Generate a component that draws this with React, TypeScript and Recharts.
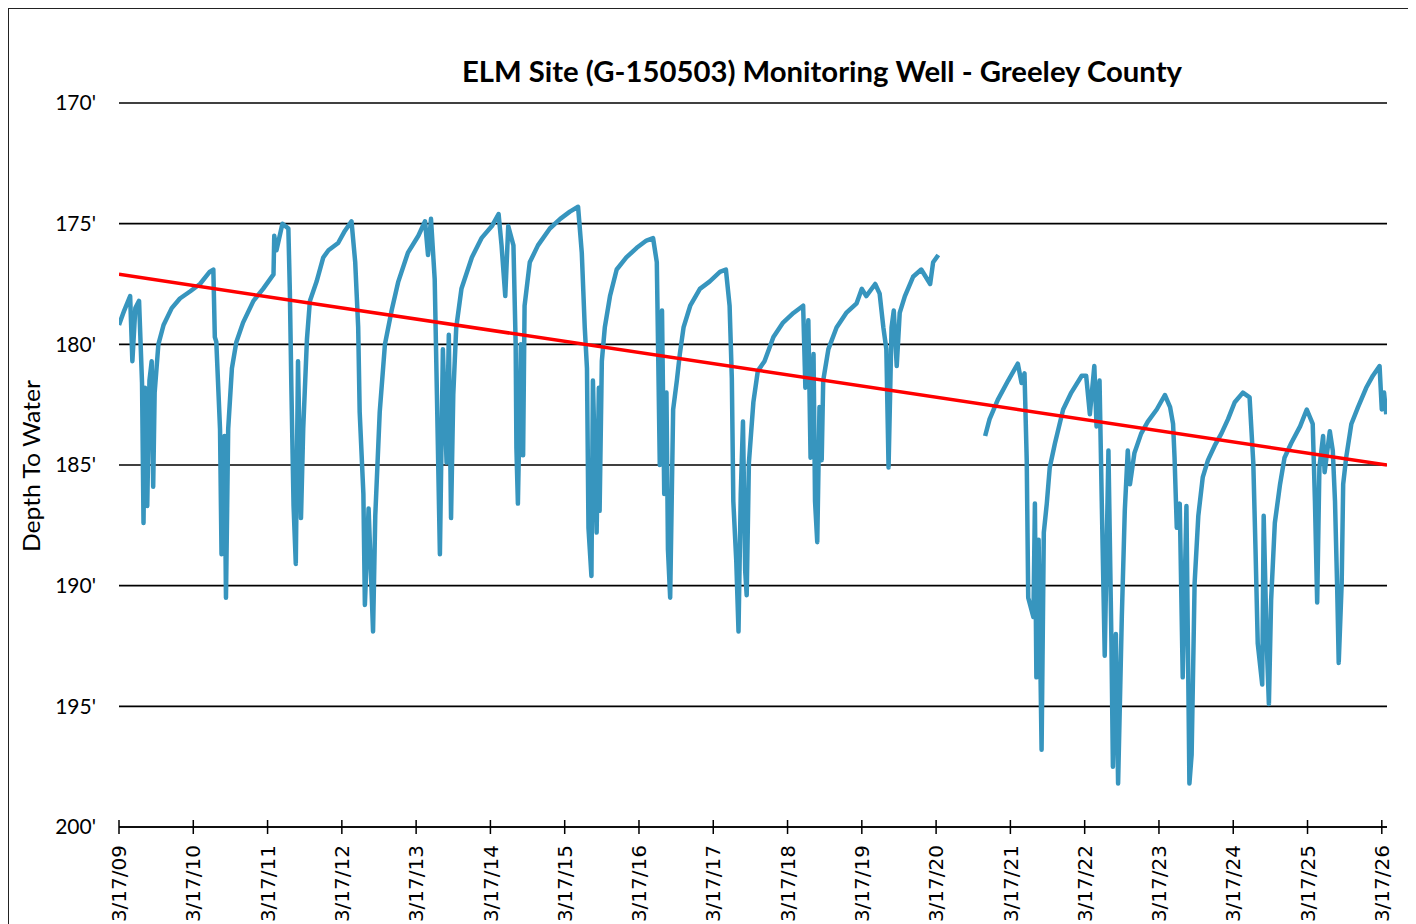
import { CartesianGrid, Line, LineChart, XAxis, YAxis } from 'recharts';

/* Depth-to-water record, read off the hydrograph. Dates are decimal years,
   depth in feet below surface. The record has a gap in mid 2020. */

const WELL_2009_2020: [number, number][] = [
  [2009.21, 179.2], [2009.28, 178.6], [2009.36, 178.0], [2009.39, 180.7], [2009.43, 178.5],
  [2009.48, 178.2], [2009.52, 181.6], [2009.54, 187.4], [2009.56, 181.8], [2009.59, 186.7],
  [2009.62, 181.5], [2009.65, 180.7], [2009.67, 185.9], [2009.69, 182.0], [2009.74, 180.0],
  [2009.81, 179.2], [2009.92, 178.5], [2010.03, 178.1], [2010.17, 177.8], [2010.3, 177.5],
  [2010.43, 177.0], [2010.48, 176.9], [2010.5, 179.7], [2010.52, 179.9], [2010.57, 183.5],
  [2010.59, 188.7], [2010.63, 183.8], [2010.65, 190.5], [2010.68, 183.5], [2010.73, 181.0],
  [2010.79, 179.9], [2010.88, 179.1], [2011.02, 178.2], [2011.15, 177.7], [2011.29, 177.1],
  [2011.3, 175.5], [2011.33, 176.1], [2011.41, 175.0], [2011.49, 175.2], [2011.51, 177.8],
  [2011.53, 181.7], [2011.56, 186.7], [2011.59, 189.1], [2011.62, 180.7], [2011.66, 187.2],
  [2011.69, 183.5], [2011.74, 179.8], [2011.78, 178.2], [2011.87, 177.4], [2011.96, 176.4],
  [2012.03, 176.1], [2012.16, 175.8], [2012.25, 175.3], [2012.34, 174.9], [2012.39, 176.6],
  [2012.43, 179.3], [2012.45, 182.8], [2012.5, 186.2], [2012.52, 190.8], [2012.57, 186.8],
  [2012.63, 191.9], [2012.66, 187.1], [2012.72, 182.8], [2012.79, 180.0], [2012.88, 178.6],
  [2012.97, 177.4], [2013.1, 176.2], [2013.24, 175.5], [2013.33, 174.9], [2013.37, 176.3],
  [2013.41, 174.8], [2013.46, 177.3], [2013.49, 182.1], [2013.53, 188.7], [2013.57, 180.2],
  [2013.62, 184.9], [2013.65, 179.6], [2013.68, 187.2], [2013.71, 182.1], [2013.75, 179.3],
  [2013.82, 177.7], [2013.96, 176.4], [2014.09, 175.6], [2014.23, 175.1], [2014.32, 174.6],
  [2014.36, 175.9], [2014.41, 178.0], [2014.45, 175.1], [2014.52, 175.9], [2014.55, 180.0],
  [2014.56, 184.3], [2014.58, 186.6], [2014.62, 180.0], [2014.65, 184.6], [2014.67, 178.4],
  [2014.74, 176.6], [2014.85, 175.9], [2015.01, 175.2], [2015.15, 174.8], [2015.28, 174.5],
  [2015.39, 174.3], [2015.44, 176.2], [2015.48, 179.3], [2015.51, 181.0], [2015.53, 187.6],
  [2015.57, 189.6], [2015.59, 181.5], [2015.64, 187.8], [2015.67, 181.8], [2015.68, 186.9],
  [2015.71, 180.7], [2015.75, 179.3], [2015.82, 178.0], [2015.91, 176.9], [2016.04, 176.4],
  [2016.18, 176.0], [2016.31, 175.7], [2016.4, 175.6], [2016.45, 176.6], [2016.47, 180.7],
  [2016.49, 185.0], [2016.52, 178.6], [2016.55, 186.2], [2016.58, 182.0], [2016.6, 188.5],
  [2016.63, 190.5], [2016.67, 182.7], [2016.72, 181.5], [2016.76, 180.4], [2016.81, 179.3],
  [2016.9, 178.4], [2017.03, 177.7], [2017.16, 177.4], [2017.3, 177.0], [2017.38, 176.9],
  [2017.43, 178.4], [2017.46, 181.4], [2017.48, 186.5], [2017.52, 189.0], [2017.55, 191.9],
  [2017.58, 186.2], [2017.61, 183.2], [2017.64, 189.4], [2017.66, 190.4], [2017.69, 184.9],
  [2017.75, 182.4], [2017.81, 181.1], [2017.9, 180.7], [2018.02, 179.7], [2018.15, 179.1],
  [2018.29, 178.7], [2018.42, 178.4], [2018.45, 181.8], [2018.49, 179.0], [2018.52, 184.7],
  [2018.56, 180.4], [2018.58, 186.5], [2018.61, 188.2], [2018.64, 182.6], [2018.67, 184.8],
  [2018.69, 181.5], [2018.76, 180.2], [2018.87, 179.3], [2019.0, 178.7], [2019.14, 178.3],
  [2019.21, 177.7], [2019.27, 178.0], [2019.39, 177.5], [2019.45, 177.9], [2019.5, 179.3],
  [2019.54, 180.2], [2019.57, 185.1], [2019.61, 179.3], [2019.64, 178.6], [2019.68, 180.9],
  [2019.72, 178.7], [2019.79, 178.0], [2019.9, 177.2], [2020.01, 176.9], [2020.13, 177.5],
  [2020.17, 176.6], [2020.24, 176.3],
];

const WELL_2020_2026: [number, number][] = [
  [2020.87, 183.8], [2020.93, 183.1], [2021.04, 182.3], [2021.18, 181.5], [2021.31, 180.8],
  [2021.36, 181.6], [2021.4, 181.2], [2021.43, 184.8], [2021.45, 190.5], [2021.52, 191.3],
  [2021.54, 186.6], [2021.56, 193.8], [2021.59, 188.1], [2021.63, 196.8], [2021.66, 187.8],
  [2021.7, 186.6], [2021.74, 185.1], [2021.81, 184.1], [2021.92, 182.7], [2022.03, 182.0],
  [2022.17, 181.3], [2022.23, 181.3], [2022.28, 182.9], [2022.34, 180.9], [2022.37, 183.4],
  [2022.41, 181.5], [2022.44, 186.5], [2022.48, 192.9], [2022.53, 184.4], [2022.57, 192.3],
  [2022.59, 197.5], [2022.63, 192.0], [2022.66, 198.2], [2022.71, 191.3], [2022.75, 186.9],
  [2022.79, 184.4], [2022.82, 185.8], [2022.88, 184.5], [2022.97, 183.7], [2023.06, 183.2],
  [2023.18, 182.7], [2023.29, 182.1], [2023.36, 182.6], [2023.4, 183.3], [2023.42, 184.7],
  [2023.45, 187.6], [2023.49, 186.6], [2023.53, 193.8], [2023.58, 186.7], [2023.62, 198.2],
  [2023.65, 197.0], [2023.69, 189.9], [2023.74, 187.1], [2023.8, 185.5], [2023.87, 184.8],
  [2023.96, 184.2], [2024.05, 183.7], [2024.14, 183.1], [2024.23, 182.4], [2024.34, 182.0],
  [2024.43, 182.2], [2024.48, 184.9], [2024.51, 188.5], [2024.54, 192.4], [2024.6, 194.1],
  [2024.62, 187.1], [2024.66, 192.3], [2024.69, 194.9], [2024.72, 190.6], [2024.77, 187.4],
  [2024.84, 185.8], [2024.9, 184.7], [2024.99, 184.1], [2025.11, 183.4], [2025.2, 182.7],
  [2025.28, 183.3], [2025.31, 186.5], [2025.34, 190.7], [2025.37, 185.1], [2025.42, 183.8],
  [2025.44, 185.3], [2025.51, 183.6], [2025.55, 184.4], [2025.58, 186.5], [2025.61, 190.2],
  [2025.63, 193.2], [2025.67, 189.9], [2025.69, 185.8], [2025.73, 184.7], [2025.8, 183.3],
  [2025.89, 182.6], [2026.0, 181.8], [2026.09, 181.3], [2026.18, 180.9], [2026.21, 182.7],
  [2026.24, 182.0], [2026.27, 182.9],
];

// linear trend, drawn end to end
const TREND: [number, number][] = [
  [2009.21, 177.1],
  [2026.28, 185.0],
];

const TICK_DATES = [
  2009.21, 2010.21, 2011.21, 2012.21, 2013.21, 2014.21, 2015.21, 2016.21, 2017.21,
  2018.21, 2019.21, 2020.21, 2021.21, 2022.21, 2023.21, 2024.21, 2025.21, 2026.21,
];
const TICK_LABELS = [
  '3/17/09', '3/17/10', '3/17/11', '3/17/12', '3/17/13', '3/17/14', '3/17/15', '3/17/16',
  '3/17/17', '3/17/18', '3/17/19', '3/17/20', '3/17/21', '3/17/22', '3/17/23', '3/17/24',
  '3/17/25', '3/17/26',
];
const DEPTH_TICKS = [170, 175, 180, 185, 190, 195, 200];

const TITLE = 'ELM Site (G-150503) Monitoring Well - Greeley County';
const WELL_BLUE = '#3795be';
const INK = '#000';

const toRows = (pts: [number, number][]) => pts.map(([date, depth]) => ({ date, depth }));

function DateTick({ x, y, payload }: { x?: number; y?: number; payload?: { value: number } }) {
  const i = TICK_DATES.indexOf(payload?.value ?? -1);
  const px = x ?? 0;
  const py = y ?? 0;
  return (
    <g>
      <line x1={px} y1={py - 7} x2={px} y2={py + 7} stroke={INK} strokeWidth={1.5} />
      <text
        x={px}
        y={py + 18}
        dy="0.36em"
        textAnchor="end"
        transform={`rotate(-90, ${px}, ${py + 18})`}
        fontFamily="'DejaVu Sans', Verdana, sans-serif"
        fontSize={20}
        fill={INK}
      >
        {i >= 0 ? TICK_LABELS[i] : ''}
      </text>
    </g>
  );
}

export default function App() {
  return (
    <div
      style={{
        position: 'relative',
        width: 1400,
        height: 1000,
        border: '1px solid #222',
        background: '#fff',
      }}
    >
      <LineChart
        width={1400}
        height={1000}
        margin={{ top: 94, right: 22, bottom: 82, left: 30 }}
      >
        <CartesianGrid horizontal vertical={false} stroke={INK} strokeWidth={1.6} />
        <XAxis
          type="number"
          dataKey="date"
          domain={[2009.21, 2026.28]}
          ticks={TICK_DATES}
          interval={0}
          allowDataOverflow
          height={100}
          tickLine={false}
          tickSize={0}
          tickMargin={0}
          axisLine={{ stroke: INK, strokeWidth: 1.6 }}
          tick={<DateTick />}
        />
        <YAxis
          type="number"
          reversed
          domain={[170, 200]}
          ticks={DEPTH_TICKS}
          interval={0}
          width={80}
          axisLine={false}
          tickLine={false}
          tickSize={15}
          tickMargin={8}
          tickFormatter={(v) => `${v}'`}
          tick={{ fill: INK, fontSize: 21, fontFamily: 'Lato, sans-serif' }}
        />
        <Line
          data={toRows(WELL_2009_2020)}
          dataKey="depth"
          type="linear"
          stroke={WELL_BLUE}
          strokeWidth={4.5}
          strokeLinejoin="round"
          dot={false}
          activeDot={false}
          isAnimationActive={false}
        />
        <Line
          data={toRows(WELL_2020_2026)}
          dataKey="depth"
          type="linear"
          stroke={WELL_BLUE}
          strokeWidth={4.5}
          strokeLinejoin="round"
          dot={false}
          activeDot={false}
          isAnimationActive={false}
        />
        <Line
          data={toRows(TREND)}
          dataKey="depth"
          type="linear"
          stroke="#ff0000"
          strokeWidth={3.5}
          dot={false}
          activeDot={false}
          isAnimationActive={false}
        />
      </LineChart>

      {/* title and axis name sit outside the plot, Excel-style */}
      <svg
        width={1400}
        height={1000}
        style={{ position: 'absolute', left: 0, top: 0, pointerEvents: 'none' }}
      >
        <text
          x={813}
          y={73}
          textAnchor="middle"
          textLength={720}
          lengthAdjust="spacingAndGlyphs"
          fontFamily="Lato, sans-serif"
          fontWeight={700}
          fontSize={29}
          fill={INK}
        >
          {TITLE}
        </text>
        <text
          x={23}
          y={457}
          dy="0.36em"
          textAnchor="middle"
          textLength={172}
          lengthAdjust="spacingAndGlyphs"
          transform="rotate(-90, 23, 457)"
          fontFamily="Lato, sans-serif"
          fontSize={23}
          fill={INK}
        >
          Depth To Water
        </text>
      </svg>
    </div>
  );
}
